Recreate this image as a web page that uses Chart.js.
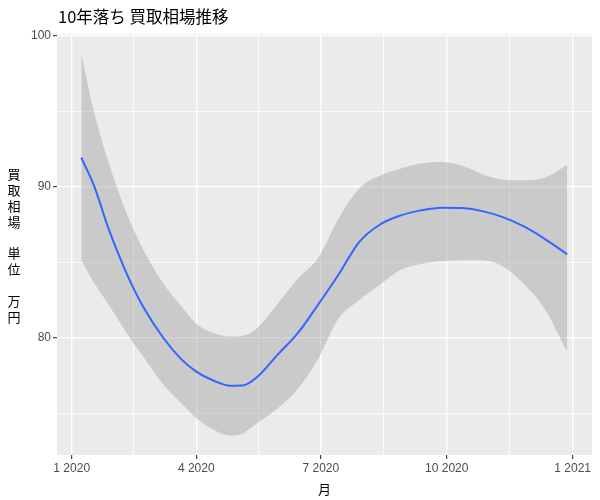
<!DOCTYPE html>
<html>
<head>
<meta charset="utf-8">
<script src="https://cdn.jsdelivr.net/npm/chart.js@4.4.1/dist/chart.umd.min.js"></script>
<style>
html, body { margin: 0; padding: 0; background: #fff; }
#wrap { width: 600px; height: 500px; }
</style>
</head>
<body>
<div id="wrap"><canvas id="souba"></canvas></div>
<script>
// 2020/1/1 からの経過日数
var days  = [7, 16, 27, 40, 52, 67, 80, 91, 103, 116, 125, 136, 150, 165, 180, 195, 210, 225, 240, 255, 270, 285, 300, 315, 330, 345, 362];
// 平滑化した相場 (万円) と信頼区間
var fit   = [91.94, 90.15, 87.22, 84.3, 82.1, 80.0, 78.6, 77.77, 77.2, 76.84, 76.85, 77.45, 78.85, 80.3, 82.2, 84.2, 86.35, 87.5, 88.1, 88.45, 88.63, 88.6, 88.4, 88.0, 87.4, 86.6, 85.54];
var upper = [98.81, 95.1, 91.6, 88.3, 85.9, 83.6, 82.1, 80.95, 80.35, 80.1, 80.15, 80.7, 82.2, 83.9, 85.3, 87.9, 89.9, 90.75, 91.2, 91.55, 91.65, 91.4, 90.85, 90.5, 90.45, 90.6, 91.46];
var lower = [85.17, 83.7, 82.2, 80.35, 78.8, 76.9, 75.7, 74.7, 73.95, 73.53, 73.68, 74.4, 75.3, 76.6, 78.6, 81.3, 82.5, 83.5, 84.5, 84.9, 85.1, 85.15, 85.15, 84.75, 83.6, 82.0, 79.08];

// 目盛り
var monthTicks  = [0, 91, 182, 274, 366];
var monthLabels = ['1 2020', '4 2020', '7 2020', '10 2020', '1 2021'];
var yMajor = [80, 90, 100];
var yMinor = [75, 85, 95];
var yTitle = ['買', '取', '相', '場', '', '単', '位', '', '万', '円'];

var jp = '"Noto Sans CJK JP", "Noto Sans CJK SC", sans-serif';
var latin = '"Liberation Sans", Arial, sans-serif';

// 補助目盛り (主目盛りの中間)
var monthMinor = [];
for (var i = 0; i < monthTicks.length - 1; i++) {
    monthMinor.push((monthTicks[i] + monthTicks[i + 1]) / 2);
}

function pts(vals) {
    return days.map(function(d, i) { return { x: d, y: vals[i] }; });
}

var ggBack = {
    id: 'ggBack',
    beforeDraw: function(chart) {
        var a = chart.chartArea, c = chart.ctx;
        c.save();
        c.fillStyle = '#ffffff';
        c.fillRect(0, 0, chart.width, chart.height);
        c.fillStyle = '#EBEBEB';
        c.fillRect(a.left, a.top, a.right - a.left, a.bottom - a.top);

        // タイトル
        c.fillStyle = '#000000';
        c.textBaseline = 'middle';
        c.textAlign = 'left';
        c.font = '16.5px ' + jp;
        c.fillText('10年落ち 買取相場推移', a.left + 1, 17);

        // 縦書きの軸タイトル
        c.font = '13px ' + jp;
        c.textAlign = 'center';
        var step = 15.8;
        var mid = (a.top + a.bottom) / 2 + 1;
        var start = mid - step * (yTitle.length - 1) / 2;
        yTitle.forEach(function(ch, k) {
            if (ch) c.fillText(ch, 14, start + k * step);
        });
        c.restore();
    }
};

function isMajorX(v) { return monthTicks.indexOf(v) >= 0; }
function isMajorY(v) { return yMajor.indexOf(v) >= 0; }

document.addEventListener('DOMContentLoaded', function() {
    var ctx = document.getElementById('souba').getContext('2d');

    var data = {
        datasets: [{
            data: pts(fit),
            borderColor: '#3366FF',
            borderWidth: 2,
            pointRadius: 0,
            fill: false,
            cubicInterpolationMode: 'monotone'
        }, {
            data: pts(upper),
            borderColor: 'transparent',
            borderWidth: 0,
            pointRadius: 0,
            backgroundColor: 'rgba(153,153,153,0.4)',
            fill: '+1',
            cubicInterpolationMode: 'monotone'
        }, {
            data: pts(lower),
            borderColor: 'transparent',
            borderWidth: 0,
            pointRadius: 0,
            fill: false,
            cubicInterpolationMode: 'monotone'
        }]
    };

    var options = {
        responsive: true,
        maintainAspectRatio: false,
        animation: false,
        devicePixelRatio: 1,
        layout: { padding: { top: 34, right: 8, left: 0, bottom: 0 } },
        plugins: {
            legend: { display: false },
            tooltip: { enabled: false },
            title: { display: false }
        },
        scales: {
            x: {
                type: 'linear',
                min: -10.75,
                max: 380.15,
                afterBuildTicks: function(s) {
                    s.ticks = monthTicks.concat(monthMinor).sort(function(a, b) { return a - b; })
                        .map(function(v) { return { value: v }; });
                },
                afterFit: function(s) { s.height = 45; },
                ticks: {
                    autoSkip: false,
                    maxRotation: 0,
                    padding: 2,
                    color: '#4D4D4D',
                    font: { family: latin, size: 12 },
                    callback: function(v) {
                        var k = monthTicks.indexOf(v);
                        return k >= 0 ? monthLabels[k] : '';
                    }
                },
                grid: {
                    color: function(c) { return c.tick && isMajorX(c.tick.value) ? '#FFFFFF' : 'rgba(255,255,255,0.75)'; },
                    lineWidth: function(c) { return c.tick && isMajorX(c.tick.value) ? 1.3 : 1; },
                    tickColor: function(c) { return c.tick && isMajorX(c.tick.value) ? '#333333' : 'rgba(0,0,0,0)'; },
                    tickWidth: 1.1,
                    tickLength: 4
                },
                border: { display: false },
                title: {
                    display: true,
                    text: '月',
                    color: '#000000',
                    font: { family: jp, size: 13 },
                    padding: { top: 0, bottom: 3 }
                }
            },
            y: {
                type: 'linear',
                min: 72.25,
                max: 100.13,
                afterBuildTicks: function(s) {
                    s.ticks = yMajor.concat(yMinor).sort(function(a, b) { return a - b; })
                        .map(function(v) { return { value: v }; });
                },
                afterFit: function(s) { s.width = 57; },
                ticks: {
                    padding: 2,
                    color: '#4D4D4D',
                    font: { family: latin, size: 12 },
                    callback: function(v) { return isMajorY(v) ? String(v) : ''; }
                },
                grid: {
                    color: function(c) { return c.tick && isMajorY(c.tick.value) ? '#FFFFFF' : 'rgba(255,255,255,0.75)'; },
                    lineWidth: function(c) { return c.tick && isMajorY(c.tick.value) ? 1.3 : 1; },
                    tickColor: function(c) { return c.tick && isMajorY(c.tick.value) ? '#333333' : 'rgba(0,0,0,0)'; },
                    tickWidth: 1.1,
                    tickLength: 4
                },
                border: { display: false }
            }
        }
    };

    new Chart(ctx, {
        type: 'line',
        data: data,
        options: options,
        plugins: [ggBack]
    });
});
</script>
</body>
</html>
